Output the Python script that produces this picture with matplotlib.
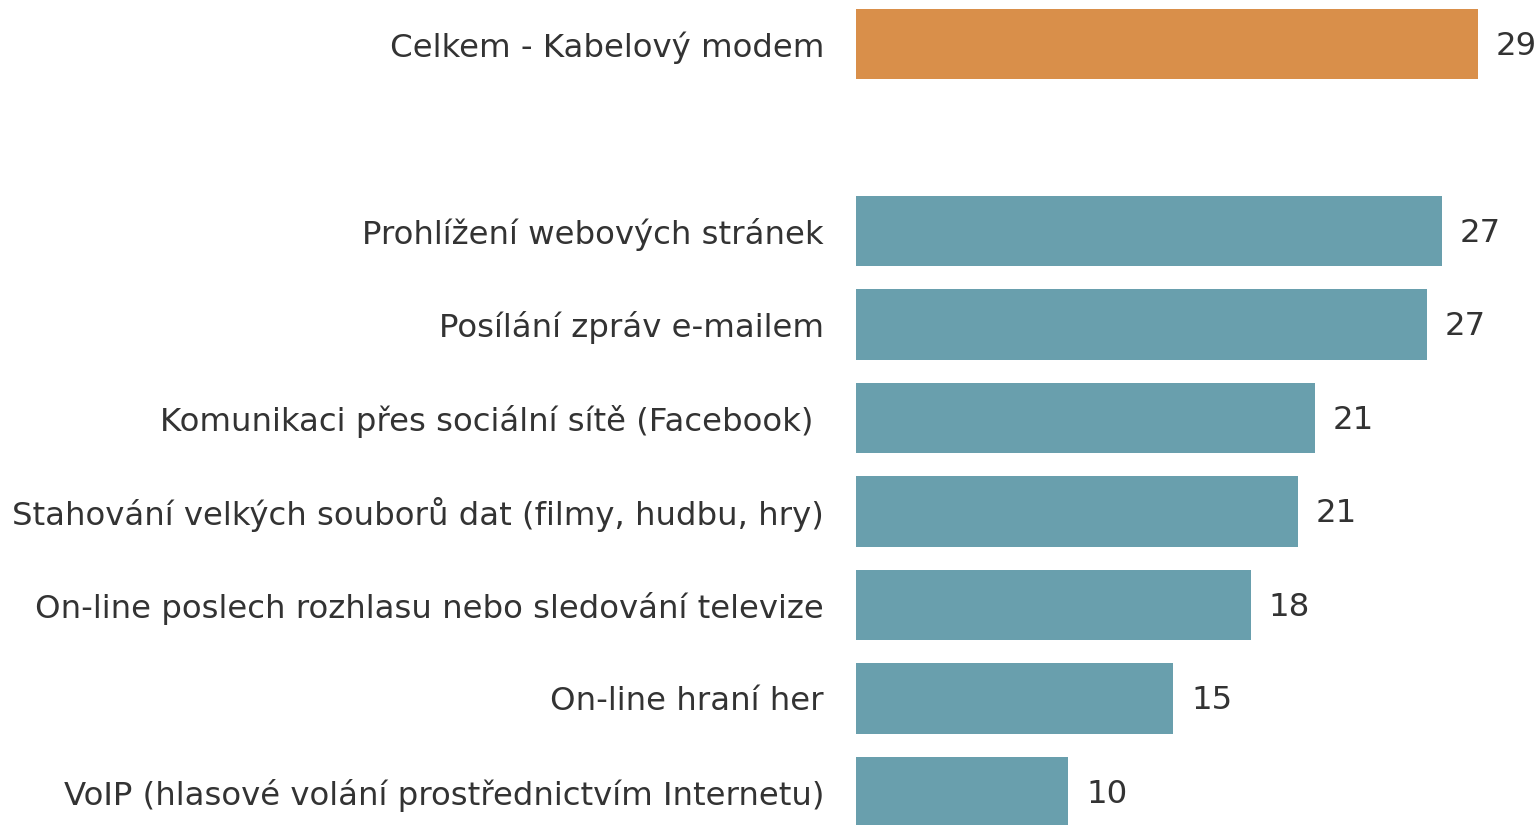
import matplotlib
matplotlib.use('Agg')
import matplotlib.pyplot as plt

categories = [
    'Celkem - Kabelový modem',
    'Prohlížení webových stránek',
    'Posílání zpráv e-mailem',
    'Komunikaci přes sociální sítě (Facebook) ',
    'Stahování velkých souborů dat (filmy, hudbu, hry)',
    'On-line poslech rozhlasu nebo sledování televize',
    'On-line hraní her',
    'VoIP (hlasové volání prostřednictvím Internetu)',
]
values = [29.0, 27.3, 26.6, 21.4, 20.6, 18.4, 14.8, 9.9]
value_labels = ['29', '27', '27', '21', '21', '18', '15', '10']
slots = [0, 2, 3, 4, 5, 6, 7, 8]   # slot 1 left empty as a spacer
colors = ['#D98F4A'] + ['#699FAD'] * 7

text_color = '#333333'
fs = 23.3

fig = plt.figure(figsize=(15.38, 8.25), dpi=100)
ax = fig.add_axes([856 / 1538, 0, 1 - 856 / 1538, 1])

ax.barh(slots, values, height=0.75, color=colors)

for s, v, lab in zip(slots, values, value_labels):
    ax.annotate(lab, (v, s), xytext=(13, -1.5), textcoords='offset points',
                va='center', ha='left', fontsize=fs, color=text_color)

ax.set_yticks(slots)
ax.set_yticklabels(categories, fontsize=fs, color=text_color)
ax.tick_params(axis='y', length=0, pad=23)
ax.set_xticks([])
ax.set_xlim(0, (1538 - 856) / 21.45)
ax.set_ylim(8 + 33 / 93.5, -44 / 93.5)
for sp in ax.spines.values():
    sp.set_visible(False)

fig.savefig('out.png', dpi=100)
